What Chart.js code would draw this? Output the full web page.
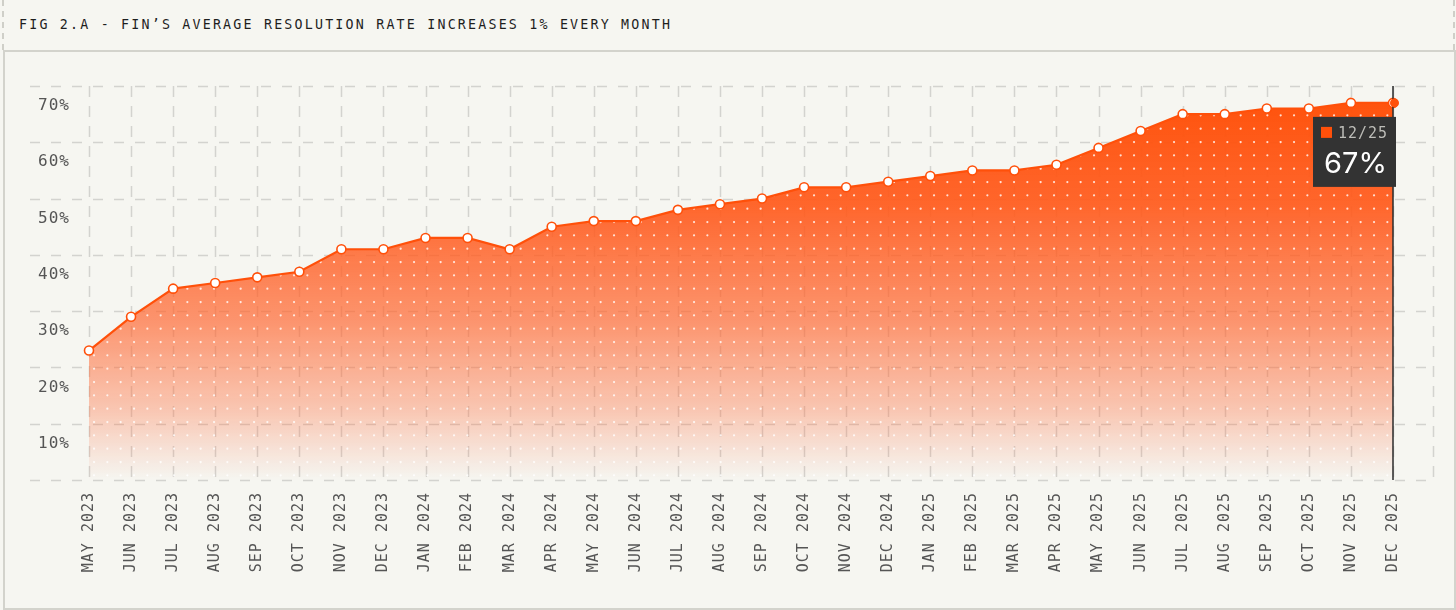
<!DOCTYPE html>
<html>
<head>
<meta charset="utf-8">
<script src="https://cdn.jsdelivr.net/npm/chart.js@4.4.1/dist/chart.umd.min.js"></script>
<style>
  html, body { margin: 0; padding: 0; background: #f6f6f1; }
  body { width: 1456px; height: 610px; position: relative; overflow: hidden; }
  .dash { position: absolute; top: 0; height: 50px; border-left: 2px dashed #cfcfc8; }
  #title {
    position: absolute; left: 19px; top: 17px;
    font: 13.3px "DejaVu Sans Mono", monospace; letter-spacing: 2.2px;
    color: #1e1e1e; white-space: nowrap;
  }
  #frame {
    position: absolute; left: 3px; top: 50px; width: 1449px; height: 556px;
    border: 2px solid #d3d3cc;
  }
  #wrap { position: absolute; left: 0; top: 0; width: 1456px; height: 610px; }
</style>
</head>
<body>
<div class="dash" style="left:2px"></div>
<div class="dash" style="left:1453px"></div>
<div id="title">FIG 2.A - FIN’S AVERAGE RESOLUTION RATE INCREASES 1% EVERY MONTH</div>
<div id="frame"></div>
<div id="wrap"><canvas id="fin" width="1456" height="610"></canvas></div>

<script>
// Monate auf der x-Achse
const months = [
  'MAY 2023', 'JUN 2023', 'JUL 2023', 'AUG 2023', 'SEP 2023', 'OCT 2023', 'NOV 2023', 'DEC 2023',
  'JAN 2024', 'FEB 2024', 'MAR 2024', 'APR 2024', 'MAY 2024', 'JUN 2024', 'JUL 2024', 'AUG 2024',
  'SEP 2024', 'OCT 2024', 'NOV 2024', 'DEC 2024', 'JAN 2025', 'FEB 2025', 'MAR 2025', 'APR 2025',
  'MAY 2025', 'JUN 2025', 'JUL 2025', 'AUG 2025', 'SEP 2025', 'OCT 2025', 'NOV 2025', 'DEC 2025'
];

// durchschnittliche Resolution Rate in %
const resolution = [
  23, 29, 34, 35, 36, 37, 41, 41,
  43, 43, 41, 45, 46, 46, 48, 49,
  50, 52, 52, 53, 54, 55, 55, 56,
  59, 62, 65, 65, 66, 66, 67, 67
];

// y-Achse
const yTicks = [0, 10, 20, 30, 40, 50, 60, 70];

// Tooltip (letzter Monat)
const activeIndex = resolution.length - 1;
const activeLabel = '12/25';

const orange = '#ff500a';

// Punktmuster für die Fläche
function dotPattern() {
  const c = document.createElement('canvas');
  c.width = 40; c.height = 40;
  const g = c.getContext('2d');
  g.fillStyle = 'rgba(255,255,255,0.8)';
  const step = 40 / 3;
  for (let i = 0; i < 3; i++) {
    for (let j = 0; j < 3; j++) {
      const x = 0.7 + i * step, y = 8.7 + j * step;
      for (const dx of [-40, 0, 40]) {
        g.beginPath();
        g.arc(x + dx, y, 1.1, 0, Math.PI * 2);
        g.fill();
      }
    }
  }
  return g.createPattern(c, 'repeat');
}

function fillGradient(context) {
  const chart = context.chart;
  const area = chart.chartArea;
  if (!area) return 'rgba(255,80,10,0.5)';
  const gr = chart.ctx.createLinearGradient(0, area.top, 0, area.bottom);
  gr.addColorStop(0, 'rgba(255,80,8,1)');
  gr.addColorStop(0.3, 'rgba(255,90,28,0.93)');
  gr.addColorStop(0.6, 'rgba(255,102,48,0.68)');
  gr.addColorStop(0.82, 'rgba(255,112,64,0.36)');
  gr.addColorStop(1, 'rgba(255,120,80,0)');
  return gr;
}

// gestrichelte Gitterlinien, etwas breiter als die Zeichenfläche
const dashGrid = {
  id: 'dashGrid',
  beforeDraw(chart) {
    const ctx = chart.ctx;
    const area = chart.chartArea;
    const x = chart.scales.x, y = chart.scales.y;
    ctx.letterSpacing = '1px';
    ctx.save();
    ctx.strokeStyle = 'rgba(0,0,0,0.14)';
    ctx.lineWidth = 1.5;
    ctx.setLineDash([10, 11]);
    yTicks.forEach(v => {
      const py = Math.round(y.getPixelForValue(v)) + 0.5;
      ctx.beginPath();
      ctx.moveTo(30, py);
      ctx.lineTo(area.right + 40, py);
      ctx.stroke();
    });
    ctx.setLineDash([11, 9]);
    const xs = months.map((m, i) => x.getPixelForValue(i));
    xs.push(area.right + 40);
    xs.forEach(px => {
      px = Math.round(px) + 0.5;
      ctx.beginPath();
      ctx.moveTo(px, area.top);
      ctx.lineTo(px, area.bottom);
      ctx.stroke();
    });
    ctx.restore();
  }
};

// Tooltip für Dezember 2025
const fixedTip = {
  id: 'fixedTip',
  afterDatasetsDraw(chart) {
    const ctx = chart.ctx;
    const area = chart.chartArea;
    const px = chart.scales.x.getPixelForValue(activeIndex);
    const py = chart.scales.y.getPixelForValue(resolution[activeIndex]);
    ctx.save();
    ctx.strokeStyle = '#2b2b2b';
    ctx.lineWidth = 1.5;
    ctx.beginPath();
    ctx.moveTo(px, area.top);
    ctx.lineTo(px, area.bottom);
    ctx.stroke();

    ctx.fillStyle = orange;
    ctx.beginPath();
    ctx.arc(px + 1.5, py, 4.5, 0, Math.PI * 2);
    ctx.fill();

    const bx = px - 80, by = py + 14;
    ctx.fillStyle = '#333333';
    ctx.fillRect(bx, by, 83, 70);
    ctx.fillStyle = orange;
    ctx.fillRect(bx + 8, by + 10, 11, 11);
    ctx.letterSpacing = '1px';
    ctx.font = '15px "DejaVu Sans Mono", monospace';
    ctx.fillStyle = '#bdbdb8';
    ctx.textBaseline = 'alphabetic';
    ctx.fillText(activeLabel, bx + 25, by + 21);
    ctx.letterSpacing = '0px';
    ctx.font = '29px Inter, "Liberation Sans", sans-serif';
    ctx.fillStyle = '#ffffff';
    ctx.fillText(resolution[activeIndex] + '%', bx + 11, by + 56);
    ctx.restore();
  }
};

const pattern = dotPattern();

new Chart(document.getElementById('fin'), {
  type: 'line',
  data: {
    labels: months,
    datasets: [
      {
        data: resolution,
        fill: 'origin',
        backgroundColor: pattern,
        borderColor: orange,
        borderWidth: 2.2,
        tension: 0,
        pointRadius: 4.5,
        pointBackgroundColor: '#ffffff',
        pointBorderColor: orange,
        pointBorderWidth: 1.6
      },
      {
        data: resolution,
        fill: 'origin',
        backgroundColor: fillGradient,
        borderColor: 'rgba(0,0,0,0)',
        borderWidth: 0,
        pointRadius: 0
      }
    ]
  },
  options: {
    responsive: false,
    animation: false,
    events: [],
    layout: { padding: { left: 0, top: 86, right: 63, bottom: 0 } },
    scales: {
      x: {
        grid: { display: false, drawTicks: false },
        border: { display: false },
        afterFit(scale) { scale.height = 130; },
        ticks: {
          autoSkip: false,
          minRotation: 90,
          maxRotation: 90,
          padding: 12,
          color: '#555',
          font: { family: '"DejaVu Sans Mono", monospace', size: 15 }
        }
      },
      y: {
        min: 0,
        max: 70,
        grid: { display: false, drawTicks: false },
        border: { display: false },
        afterFit(scale) { scale.width = 89; },
        afterBuildTicks(scale) { scale.ticks = yTicks.map(v => ({ value: v })); },
        ticks: {
          padding: 19,
          labelOffset: 20,
          color: '#555',
          font: { family: '"DejaVu Sans Mono", monospace', size: 16 },
          callback: v => (v === 0 ? '' : v + '%')
        }
      }
    },
    plugins: {
      legend: { display: false },
      tooltip: { enabled: false },
      filler: { drawTime: 'beforeDatasetsDraw' }
    }
  },
  plugins: [dashGrid, fixedTip]
});
</script>
</body>
</html>
